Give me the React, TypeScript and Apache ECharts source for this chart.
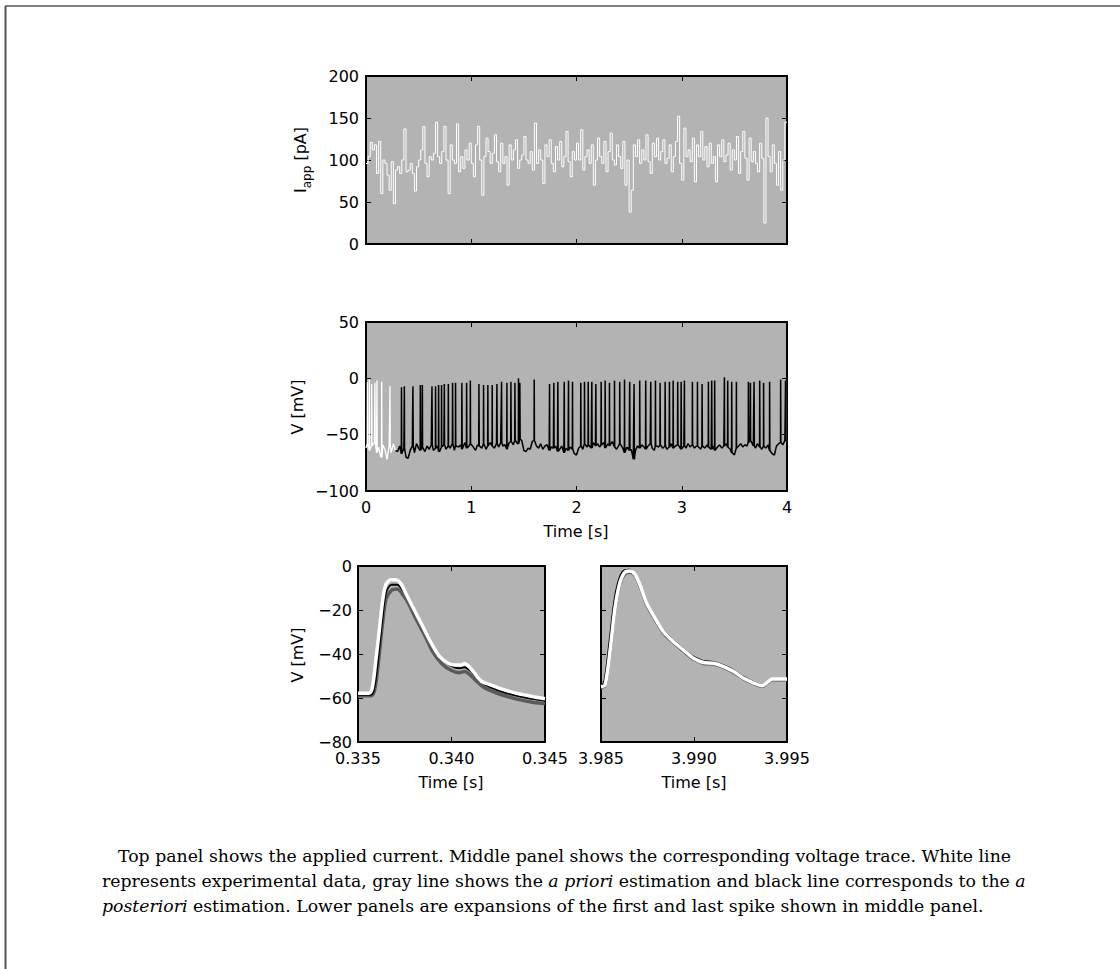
import React, { useEffect, useRef } from "react";
import * as echarts from "echarts";

// ---------- DATA ----------
// Applied current (pA), one value per 20 ms step, 0 .. 3.98 s
const iappStep = 0.02;
const iappValues = [
  96, 104, 121, 112, 118, 84, 122, 60, 100, 96, 82, 64, 98, 48, 88, 92, 84, 100, 137, 86,
  88, 96, 84, 63, 92, 100, 112, 140, 96, 80, 104, 100, 108, 145, 104, 96, 110, 140, 100, 60,
  118, 100, 96, 143, 86, 104, 90, 112, 100, 120, 96, 80, 118, 140, 100, 58, 104, 126, 110, 96,
  108, 130, 98, 86, 120, 96, 104, 70, 118, 100, 112, 124, 90, 100, 106, 128, 100, 96, 110, 88,
  144, 96, 112, 100, 72, 118, 104, 124, 96, 86, 116, 100, 122, 92, 104, 134, 98, 80, 110, 100,
  120, 100, 136, 88, 104, 112, 96, 118, 70, 100, 126, 104, 96, 122, 86, 110, 132, 100, 94, 118,
  104, 90, 122, 70, 100, 38, 64, 118, 104, 124, 96, 112, 100, 130, 98, 84, 120, 104, 126, 100,
  110, 124, 96, 102, 118, 86, 104, 122, 152, 96, 76, 138, 104, 112, 98, 126, 74, 118, 104, 134,
  100, 116, 92, 120, 96, 104, 74, 118, 104, 124, 98, 106, 120, 88, 112, 100, 128, 84, 110, 134,
  102, 76, 126, 98, 110, 96, 86, 120, 102, 25, 150, 104, 86, 118, 96, 70, 110, 64, 100, 145,
];

// Membrane potential between spikes (mV), sampled every 20 ms, 0 .. 4 s
const vBaseStep = 0.02;
const vBaseline = [
  -62, -58, -64, -60, -57, -66, -61, -70, -59, -63, -72, -60, -66, -58, -64, -65, -60, -67, -62, -70,
  -71, -64, -60, -66, -58, -62, -64, -61, -65, -60, -63, -59, -64, -62, -60, -65, -61, -59, -63, -60,
  -62, -58, -64, -60, -61, -59, -63, -57, -62, -60, -58, -61, -64, -59, -60, -62, -58, -63, -60, -57,
  -60, -62, -58, -61, -57, -60, -59, -63, -57, -56, -59, -55, -58, -54, -55, -64, -65, -62, -63, -56,
  -55, -60, -62, -58, -63, -60, -59, -64, -61, -62, -60, -65, -63, -60, -66, -62, -64, -61, -63, -67,
  -68, -62, -60, -63, -58, -61, -59, -62, -57, -60, -58, -61, -59, -57, -62, -58, -60, -56, -61, -63,
  -60, -58, -62, -66, -61, -64, -63, -72, -64, -60, -62, -59, -61, -63, -60, -58, -62, -64, -60, -61,
  -59, -62, -60, -63, -61, -58, -62, -60, -59, -61, -63, -60, -62, -58, -61, -59, -62, -60, -61, -63,
  -60, -62, -59, -61, -63, -60, -64, -61, -59, -62, -60, -58, -61, -63, -66, -68, -62, -60, -58, -61,
  -59, -60, -57, -55, -60, -62, -58, -61, -63, -60, -62, -59, -64, -67, -68, -60, -58, -57, -59, -55, -56,
];

// Spikes of the experimental trace before the estimation starts
const earlySpikeTimes = [0.013, 0.032, 0.054, 0.085, 0.104, 0.149, 0.228];
const earlySpikePeaks = [-3, -1, -5, -4, -2, -3, -7];

// Spikes from 0.3 s on (s) and their peaks (mV)
const spikeTimes = [
  0.337, 0.364, 0.446, 0.516, 0.535, 0.627, 0.661, 0.69, 0.718, 0.744, 0.782, 0.823, 0.851, 0.911,
  0.956, 0.991, 1.073, 1.117, 1.158, 1.199, 1.244, 1.288, 1.339, 1.377, 1.415, 1.449, 1.462, 1.598,
  1.744, 1.785, 1.823, 1.883, 1.924, 1.962, 2.041, 2.076, 2.111, 2.146, 2.184, 2.234, 2.272, 2.313,
  2.361, 2.411, 2.456, 2.506, 2.547, 2.601, 2.658, 2.706, 2.75, 2.794, 2.842, 2.883, 2.918, 2.962,
  2.994, 3.025, 3.101, 3.149, 3.193, 3.253, 3.285, 3.313, 3.405, 3.437, 3.475, 3.519, 3.633, 3.652,
  3.687, 3.741, 3.778, 3.835, 3.94, 3.986,
];
const spikePeaks = [
  -8, -7, -7, -6, -6, -7, -7, -6, -6, -5, -5, -4, -4, -4, -4, -2, -5, -6, -6, -6,
  -5, -3, -4, -3, -4, 0, -4, -1, -5, -4, -3, -3, -2, -3, -4, -3, -3, -3, -5, -3,
  -2, -4, -2, -3, -1, -3, -5, -2, -2, -3, -2, -4, -3, -3, -2, -3, -3, -2, -3, -3,
  -5, -3, -2, -2, 1, -2, -3, -3, -3, -4, -3, -2, -4, -3, -1, -2,
];
const estimationStart = 0.28;

// First spike expansion (0.335 - 0.345 s)
const firstExpT = [
  0.335, 0.33558, 0.33576, 0.33594, 0.33612, 0.3363, 0.33648, 0.33675, 0.33702, 0.33729, 0.33756,
  0.33801, 0.33847, 0.33892, 0.33937, 0.33982, 0.34018, 0.34054, 0.3407, 0.3409, 0.34117, 0.34162,
  0.34208, 0.34253, 0.34343, 0.34433, 0.345,
];
const firstExpV = [
  -57.8, -57.8, -55.5, -44, -30.6, -17, -8.7, -6.2, -6.2, -8, -12.5, -20, -27.6, -35.1, -41.2,
  -44.2, -45, -45, -44.3, -45.4, -48, -52.5, -54, -55.5, -57.8, -59.3, -60.3,
];
const firstEstT = [
  0.335, 0.3357, 0.3359, 0.3361, 0.3363, 0.3365, 0.3368, 0.3371, 0.3374, 0.3377, 0.3381, 0.3386,
  0.339, 0.3395, 0.34, 0.3404, 0.3407, 0.341, 0.3413, 0.3417, 0.3422, 0.3426, 0.3435, 0.3444, 0.345,
];
const firstPostV = [
  -58.5, -58.5, -54, -40, -24, -12, -8.5, -8.5, -11, -15, -22, -30, -37, -42.5, -45.5, -46.5, -46,
  -47.5, -50, -53.5, -55.5, -56.8, -59, -60.5, -61.2,
];
const firstPriorV = [
  -59, -59, -56, -43, -27, -15, -11, -10.5, -13, -17, -24, -32, -39, -44.5, -47.5, -48.5, -48,
  -49.5, -52, -55, -57, -58.3, -60.5, -62, -62.5,
];

// Last spike expansion (3.985 - 3.995 s)
const lastExpT = [
  3.985, 3.98522, 3.98549, 3.98576, 3.98603, 3.9863, 3.98656, 3.98683, 3.9871, 3.98746, 3.98791,
  3.98836, 3.9889, 3.98944, 3.98998, 3.99052, 3.99106, 3.9916, 3.99214, 3.99268, 3.99322, 3.99367,
  3.99394, 3.99421, 3.995,
];
const lastExpV = [
  -54.8, -54, -38.2, -18.6, -7.2, -2.7, -2.3, -3.8, -8.7, -17, -23.8, -29.9, -34.4, -38.2, -41.9,
  -43.9, -44.2, -45.7, -48, -51, -53.2, -54.4, -52.9, -51.4, -51.4,
];
const lastPostT = [
  3.985, 3.98518, 3.98545, 3.98572, 3.986, 3.98627, 3.98652, 3.9868, 3.98707, 3.98743, 3.98788,
  3.98833, 3.98887, 3.98941, 3.98995, 3.99049, 3.99103, 3.99157, 3.99211, 3.99265, 3.99319, 3.99364,
  3.99391, 3.99418, 3.995,
];
const lastPostV = [
  -55, -52, -34, -15, -5, -1.8, -1.6, -3.2, -8, -16, -23, -29, -33.6, -37.4, -41, -43, -43.5, -45,
  -47.2, -50.2, -52.6, -54, -52.8, -51.2, -51.2,
];
const lastPriorV = [
  -55.2, -54.5, -39, -19.5, -8, -3.5, -3, -4.5, -9.5, -17.8, -24.5, -30.6, -35, -38.8, -42.4, -44.4,
  -44.7, -46.2, -48.5, -51.4, -53.6, -54.8, -53.3, -51.8, -51.8,
];

// Tick settings
const topYTicks = { min: 0, max: 200, interval: 50 };
const midYTicks = { min: -100, max: 50, interval: 50 };
const timeTicks = { min: 0, max: 4, interval: 1 };
const lowYTicks = { min: -80, max: 0, interval: 20 };
const firstXTicks = { min: 0.335, max: 0.345, interval: 0.005 };
const lastXTicks = { min: 3.985, max: 3.995, interval: 0.005 };

// Caption
const captionLines = [
  "Top panel shows the applied current. Middle panel shows the corresponding voltage trace. White line",
  "represents experimental data, gray line shows the {i|a priori} estimation and black line corresponds to the {i|a}",
  "{i|posteriori} estimation. Lower panels are expansions of the first and last spike shown in middle panel.",
];

// ---------- HELPERS ----------
const zip = (xs: number[], ys: number[]) => xs.map((x, i) => [x, ys[i]]);

function buildTrace(spT: number[], spP: number[], tFrom: number, tTo: number): number[][] {
  const pts: number[][] = [];
  vBaseline.forEach((v, i) => {
    const t = +(i * vBaseStep).toFixed(4);
    if (t >= tFrom && t <= tTo) pts.push([t, v]);
  });
  spT.forEach((ts, k) => {
    if (ts < tFrom || ts > tTo) return;
    const foot = vBaseline[Math.round(ts / vBaseStep)];
    pts.push([ts - 0.0015, foot], [ts, spP[k]], [ts + 0.0025, foot]);
  });
  pts.sort((a, b) => a[0] - b[0]);
  return pts;
}

const fmtNum = (v: number) => (v < 0 ? "\u2212" + Math.abs(v) : String(v));

const SANS = "DejaVu Sans";
const SERIF = "DejaVu Serif";
const FS = 16;

export default function App() {
  const ref = useRef<HTMLDivElement>(null);

  useEffect(() => {
    if (!ref.current) return;
    const chart = echarts.init(ref.current, null, { renderer: "svg" });

    const grids = [
      { left: 366, top: 76, width: 421, height: 168 },
      { left: 366, top: 322, width: 421, height: 169 },
      { left: 358, top: 566, width: 187, height: 176 },
      { left: 601, top: 566, width: 186, height: 176 },
    ].map((g) => ({
      ...g,
      show: true,
      backgroundColor: "#b3b3b3",
      borderColor: "#000",
      borderWidth: 2,
    }));

    const tick = () => ({ show: true, inside: true, length: 5, lineStyle: { color: "#000", width: 1 } });
    const line0 = () => ({ show: true, onZero: false, lineStyle: { color: "#000", width: 2 } });
    const label = (show: boolean, margin: number, fmt: (v: number) => string) => ({
      show,
      color: "#000",
      fontSize: FS,
      fontFamily: SANS,
      margin,
      formatter: fmt,
      showMinLabel: true,
      showMaxLabel: true,
    });

    const xAxes: any[] = [];
    const yAxes: any[] = [];
    const axisSpec = [
      { x: timeTicks, y: topYTicks, xl: false, yl: true, xf: fmtNum, ym: 7 },
      { x: timeTicks, y: midYTicks, xl: true, yl: true, xf: fmtNum, ym: 7 },
      { x: firstXTicks, y: lowYTicks, xl: true, yl: true, xf: (v: number) => v.toFixed(3), ym: 6 },
      { x: lastXTicks, y: lowYTicks, xl: true, yl: false, xf: (v: number) => v.toFixed(3), ym: 6 },
    ];
    axisSpec.forEach((s, gi) => {
      ["bottom", "top"].forEach((pos, k) => {
        xAxes.push({
          type: "value",
          gridIndex: gi,
          position: pos,
          ...s.x,
          axisLine: line0(),
          axisTick: tick(),
          splitLine: { show: false },
          axisLabel: label(k === 0 && s.xl, 8, s.xf),
        });
      });
      ["left", "right"].forEach((pos, k) => {
        yAxes.push({
          type: "value",
          gridIndex: gi,
          position: pos,
          ...s.y,
          axisLine: line0(),
          axisTick: tick(),
          splitLine: { show: false },
          axisLabel: label(k === 0 && s.yl, s.ym, fmtNum),
        });
      });
    });

    const iappData = iappValues.map((v, i) => [+(i * iappStep).toFixed(4), v]);
    iappData.push([4, iappValues[iappValues.length - 1]]);

    const expTrace = buildTrace(
      [...earlySpikeTimes, ...spikeTimes],
      [...earlySpikePeaks, ...spikePeaks],
      0,
      4
    );
    const postTrace = buildTrace(spikeTimes, spikePeaks, estimationStart, 4);

    const line = (gi: number, data: number[][], color: string, width: number, extra: any = {}) => ({
      type: "line",
      xAxisIndex: gi * 2,
      yAxisIndex: gi * 2,
      data,
      showSymbol: false,
      symbol: "none",
      clip: true,
      silent: true,
      lineStyle: { color, width },
      ...extra,
    });

    const series = [
      line(0, iappData, "#ffffff", 1, { step: "end" }),
      line(1, expTrace, "#ffffff", 1.3),
      line(1, postTrace, "#000000", 1.6),
      line(2, zip(firstEstT, firstPriorV), "#5a5a5a", 3.5, { smooth: 0.3 }),
      line(2, zip(firstEstT, firstPostV), "#000000", 2, { smooth: 0.3 }),
      line(2, zip(firstExpT, firstExpV), "#ffffff", 3.5, { smooth: 0.3 }),
      line(3, zip(lastExpT, lastPriorV), "#5a5a5a", 3, { smooth: 0.3 }),
      line(3, zip(lastPostT, lastPostV), "#000000", 1.5, { smooth: 0.3 }),
      line(3, zip(lastExpT, lastExpV), "#ffffff", 3.5, { smooth: 0.3 }),
    ];

    const axisTitle = (text: string, x: number, y: number, rotate: boolean, rich?: any) => ({
      type: "text",
      x,
      y,
      rotation: rotate ? Math.PI / 2 : 0,
      silent: true,
      style: {
        text,
        fill: "#000",
        fontSize: FS,
        fontFamily: SANS,
        align: "center",
        verticalAlign: "middle",
        rich,
      },
    });

    const graphic: any[] = [
      { type: "line", shape: { x1: 5, y1: 6, x2: 1120, y2: 6 }, style: { stroke: "#000", lineWidth: 1 } },
      { type: "line", shape: { x1: 5.5, y1: 6, x2: 5.5, y2: 969 }, style: { stroke: "#555", lineWidth: 2 } },
      axisTitle("{a|I}{s|app}{a| [pA]}", 300, 160, true, {
        a: { fontSize: FS, fontFamily: SANS, lineHeight: 26 },
        s: { fontSize: 12, fontFamily: SANS, verticalAlign: "bottom" },
      }),
      axisTitle("V [mV]", 297, 407, true),
      axisTitle("Time [s]", 576, 531, false),
      axisTitle("V [mV]", 297, 655, true),
      axisTitle("Time [s]", 451, 782, false),
      axisTitle("Time [s]", 694, 782, false),
      ...captionLines.map((t, i) => ({
        type: "text",
        x: i === 0 ? 118 : 102,
        y: 856 + i * 25,
        silent: true,
        style: {
          text: t,
          fill: "#000",
          fontSize: 17.3,
          fontFamily: SERIF,
          align: "left",
          verticalAlign: "middle",
          rich: { i: { fontSize: 17.3, fontFamily: SERIF, fontStyle: "italic" } },
        },
      })),
    ];

    chart.setOption({
      animation: false,
      backgroundColor: "#ffffff",
      grid: grids,
      xAxis: xAxes,
      yAxis: yAxes,
      series,
      graphic,
    });

    return () => chart.dispose();
  }, []);

  return (
    <div ref={ref} style={{ position: "absolute", left: 0, top: 0, width: 1120, height: 969 }} />
  );
}
